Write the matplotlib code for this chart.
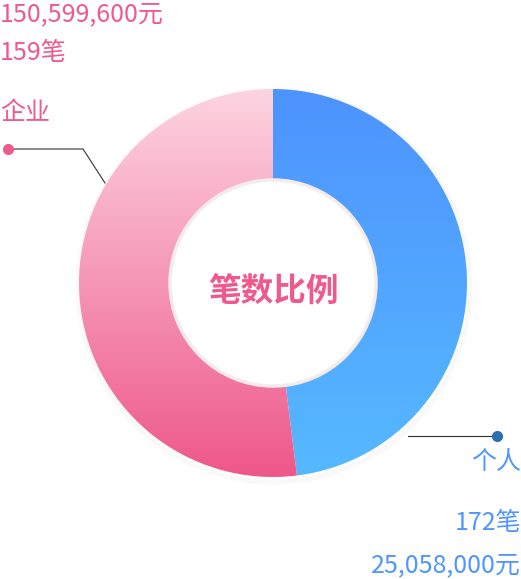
import numpy as np
import matplotlib
matplotlib.use('Agg')
from matplotlib import pyplot as plt
from matplotlib.patches import Circle

plt.rcParams['font.family'] = ['Noto Sans CJK SC', 'DejaVu Sans']

# data
names = ['个人', '企业']
counts = ['172笔', '159笔']
amounts = ['25,058,000元', '150,599,600元']
slice_sizes = [159, 172]  # share of ring as drawn (blue, pink)
center_title = '笔数比例'

W, H = 521, 579
cx, cy = 273, H - 283
r_out, r_in = 194, 103

blue_top, blue_bot = '#4d93ff', '#56b9fe'
pink_top, pink_bot = '#fdd4e1', '#ee578a'
pink_txt, blue_txt = '#ee5a8c', '#4f96ff'


def gradient(c1, c2):
    a = np.array(matplotlib.colors.to_rgb(c1))
    b = np.array(matplotlib.colors.to_rgb(c2))
    t = np.linspace(0, 1, 256)[:, None]
    return (a * (1 - t) + b * t)[:, None, :]


def main():
    fig = plt.figure(figsize=(W / 100, H / 100), dpi=100)
    ax = fig.add_axes([0, 0, 1, 1])

    # soft shadow under the ring
    for k in range(5):
        ax.add_patch(Circle((cx + 1, cy - 3), r_out + k, facecolor='none',
                            edgecolor='#000000', alpha=0.012, lw=1.5))

    wedges, _ = ax.pie(slice_sizes, startangle=90, counterclock=False,
                       radius=r_out, center=(cx, cy), frame=True,
                       wedgeprops=dict(width=r_out - r_in, linewidth=0))
    ax.set_xlim(0, W)
    ax.set_ylim(0, H)
    ax.set_aspect('equal')
    ax.axis('off')

    extent = (cx - r_out, cx + r_out, cy - r_out, cy + r_out)
    for w, (c1, c2) in zip(wedges, [(blue_top, blue_bot), (pink_top, pink_bot)]):
        w.set_facecolor('none')
        im = ax.imshow(gradient(c1, c2), extent=extent, aspect='auto',
                       origin='upper', zorder=1)
        im.set_clip_path(w)

    ax.add_patch(Circle((cx, cy), r_in, facecolor='white',
                        edgecolor='#f4ecec', lw=2.5, zorder=3))
    ax.text(cx, cy - 8, center_title, ha='center', va='center',
            fontsize=23.5, fontweight='bold', color=pink_txt, zorder=4)

    fs = 18
    # 企业 label
    ax.plot([8, 83, 105], [H - 149, H - 149, H - 183], color='#333333', lw=0.8)
    ax.plot(8, H - 149, 'o', color=pink_txt, ms=7)
    ax.text(0, H - 113, names[1], ha='left', va='center', fontsize=fs, color=pink_txt)
    ax.text(0, H - 53, counts[1], ha='left', va='center', fontsize=fs, color=pink_txt)
    ax.text(0, H - 14, amounts[1], ha='left', va='center', fontsize=fs, color=pink_txt)

    # 个人 label
    ax.plot([408, 497], [H - 436, H - 436], color='#333333', lw=0.8)
    ax.plot(497, H - 436, 'o', color='#2a6fb0', ms=7)
    ax.text(W, H - 462, names[0], ha='right', va='center', fontsize=fs, color=blue_txt)
    ax.text(W, H - 523, counts[0], ha='right', va='center', fontsize=fs, color=blue_txt)
    ax.text(W, H - 565, amounts[0], ha='right', va='center', fontsize=fs, color=blue_txt)

    fig.savefig('out.png', dpi=100)


if __name__ == '__main__':
    main()
